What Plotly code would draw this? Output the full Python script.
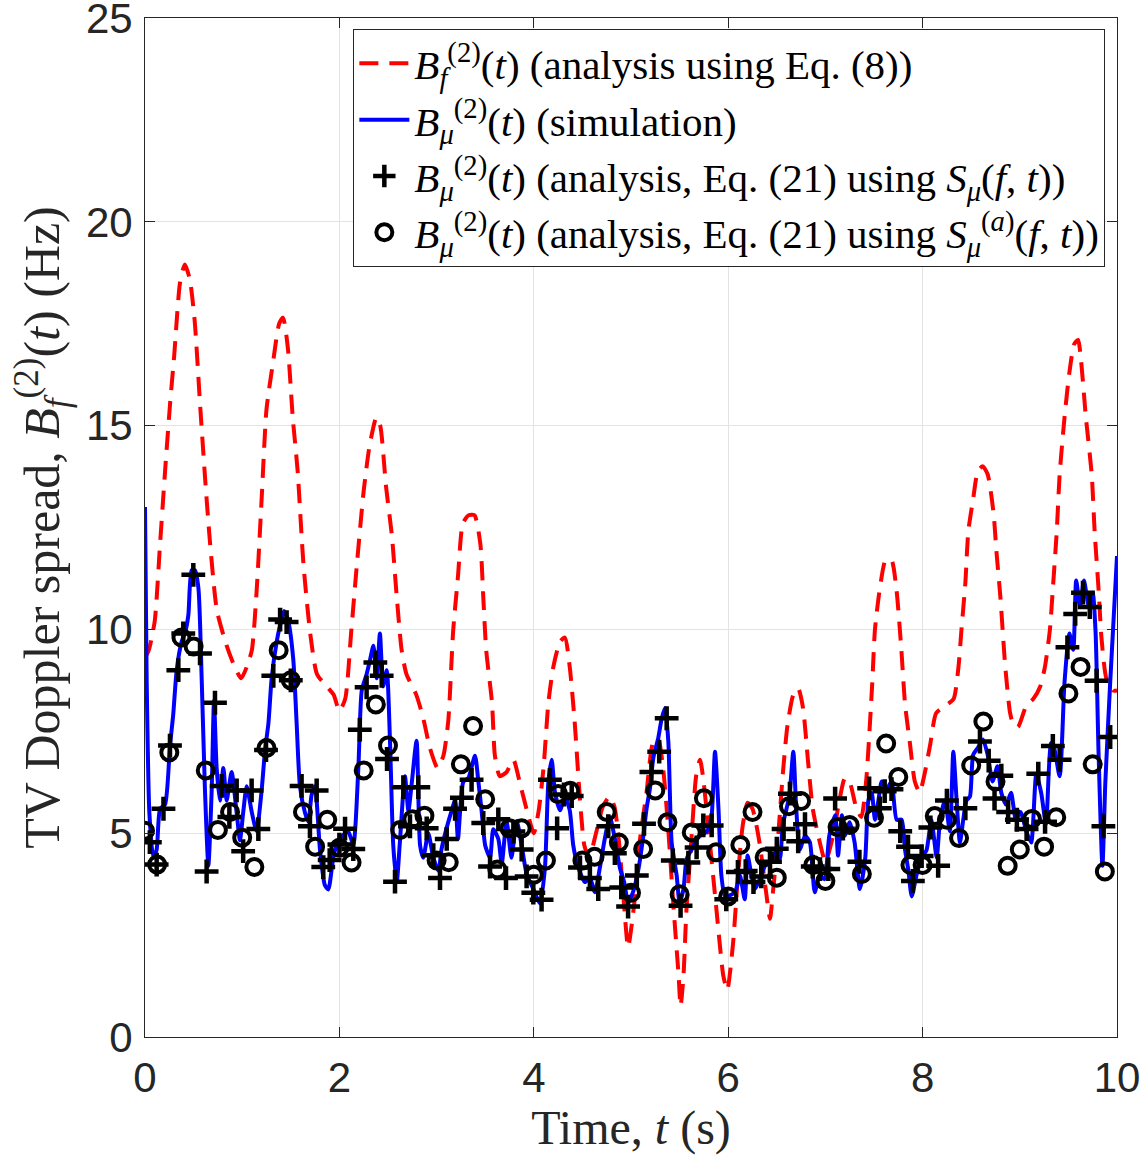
import plotly.graph_objects as go

# ---------------- data ----------------
t_red = [0.00, 0.04, 0.10, 0.155, 0.21, 0.26, 0.30, 0.36, 0.41, 0.46, 0.51, 0.57, 0.62, 0.67, 0.74, 0.84, 0.92, 0.99,
         1.05, 1.10, 1.15, 1.20, 1.25, 1.32, 1.38, 1.42, 1.47, 1.52, 1.57, 1.63, 1.70, 1.77, 1.87, 1.94, 2.00,
         2.06, 2.12, 2.18, 2.25, 2.31, 2.38, 2.42, 2.48, 2.54, 2.59, 2.64, 2.69, 2.79, 2.86, 2.93, 3.01,
         3.07, 3.12, 3.17, 3.22, 3.27, 3.33, 3.39, 3.45, 3.48, 3.51, 3.57, 3.60, 3.65, 3.72, 3.79, 3.86, 3.93, 4.00,
         4.05, 4.10, 4.15, 4.20, 4.27, 4.32, 4.37, 4.42, 4.47, 4.52, 4.57, 4.64, 4.71, 4.78, 4.83, 4.88, 4.93, 4.97,
         5.03, 5.09, 5.16, 5.23, 5.28, 5.33, 5.38, 5.44, 5.49, 5.51, 5.54, 5.57, 5.62, 5.67, 5.71, 5.74, 5.81, 5.88,
         5.95, 5.99, 6.05, 6.10, 6.15, 6.20, 6.25, 6.32, 6.39, 6.43, 6.46, 6.51, 6.56, 6.61, 6.67, 6.72, 6.77, 6.82,
         6.87, 6.94, 7.00, 7.08, 7.14, 7.20, 7.25, 7.32, 7.37, 7.42, 7.48, 7.51, 7.56, 7.62, 7.68, 7.73, 7.78, 7.82,
         7.87, 7.92, 7.97, 8.02, 8.08, 8.14, 8.25, 8.32, 8.37, 8.40, 8.44, 8.47, 8.52, 8.57, 8.62, 8.67, 8.73, 8.76,
         8.80, 8.85, 8.90, 8.93, 8.98, 9.07, 9.14, 9.21, 9.26, 9.31, 9.34, 9.38, 9.41, 9.46, 9.51, 9.56, 9.60, 9.63,
         9.68, 9.74, 9.77, 9.81, 9.84, 9.89, 9.96, 10.00]
v_red = [9.3, 9.5, 10.2, 12.1, 14.0, 15.6, 16.7, 18.5, 18.95, 18.6, 17.6, 15.4, 13.65, 12.1, 10.46, 9.6, 9.1, 8.8,
         9.1, 9.5, 11.0, 13.2, 15.4, 16.6, 17.5, 17.65, 16.9, 15.2, 13.9, 11.6, 9.9, 8.9, 8.6, 8.4, 8.0,
         8.3, 9.9, 11.6, 13.4, 14.5, 15.2, 15.0, 13.5, 12.3, 10.8, 9.5, 8.9, 8.4, 7.85, 7.1, 6.6,
         6.9, 7.75, 9.95, 11.3, 12.6, 12.8, 12.8, 12.1, 10.8, 9.5, 8.2, 6.9, 6.4, 6.5, 6.8, 6.2, 5.55, 5.0,
         5.55, 6.6, 8.2, 9.07, 9.7, 9.8, 9.07, 7.75, 6.0, 4.7, 4.4, 5.0, 5.65, 5.9, 5.65, 4.7, 3.2, 2.2,
         3.2, 4.8, 6.0, 7.25, 7.3, 6.6, 5.2, 3.1, 1.5, 0.75, 1.5, 3.1, 4.8, 6.4, 6.8, 6.4, 4.8, 3.1,
         1.5, 1.15, 2.3, 3.95, 5.2, 5.75, 5.6, 4.8, 3.55, 2.9, 3.55, 4.8, 6.4, 7.65, 8.4, 8.55, 8.07, 6.8,
         5.6, 4.8, 4.3, 4.95, 5.75, 6.35, 6.25, 5.6, 5.4, 6.3, 8.6, 10.0, 11.0, 11.7, 11.7, 11.0, 9.55, 8.15,
         7.2, 6.27, 6.0, 6.45, 7.2, 7.95, 8.15, 8.3, 9.1, 10.0, 11.15, 12.4, 13.2, 13.9, 14.0, 13.8, 12.85, 11.9,
         10.8, 9.1, 7.95, 7.7, 7.6, 8.15, 8.3, 8.6, 9.1, 10.0, 11.0, 12.4, 13.8, 15.2, 16.3, 17.0, 17.1, 16.6,
         15.2, 13.8, 12.4, 11.0, 9.8, 8.8, 8.5, 8.5]

t_blue = [0.00, 0.017, 0.045, 0.086, 0.12, 0.155, 0.206, 0.257, 0.29, 0.326, 0.377, 0.41, 0.446, 0.48, 0.514, 0.55,
          0.583, 0.617, 0.652, 0.686, 0.71, 0.737, 0.77, 0.806, 0.84, 0.891, 0.943, 0.977, 1.01, 1.046, 1.10, 1.148,
          1.20, 1.235, 1.27, 1.303, 1.355, 1.39, 1.43, 1.474, 1.526, 1.56, 1.594, 1.646, 1.68, 1.714, 1.748, 1.80,
          1.85, 1.886, 1.937, 1.988, 2.04, 2.09, 2.143, 2.195, 2.23, 2.28, 2.315, 2.35, 2.383, 2.417, 2.45, 2.487,
          2.52, 2.554, 2.59, 2.62, 2.674, 2.71, 2.743, 2.794, 2.83, 2.863, 2.914, 2.966, 3.02, 3.05, 3.10, 3.154,
          3.19, 3.22, 3.275, 3.326, 3.395, 3.43, 3.463, 3.50, 3.55, 3.583, 3.635, 3.67, 3.72, 3.77, 3.824, 3.875,
          3.926, 3.995, 4.064, 4.115, 4.15, 4.184, 4.218, 4.27, 4.32, 4.37, 4.406, 4.457, 4.525, 4.577, 4.628, 4.68,
          4.73, 4.782, 4.834, 4.885, 4.93, 4.97, 5.02, 5.075, 5.127, 5.16, 5.195, 5.23, 5.28, 5.315, 5.35, 5.384,
          5.418, 5.47, 5.50, 5.54, 5.572, 5.624, 5.66, 5.71, 5.76, 5.795, 5.83, 5.864, 5.90, 5.93, 5.966, 6.00,
          6.07, 6.12, 6.17, 6.20, 6.24, 6.276, 6.33, 6.38, 6.43, 6.48, 6.53, 6.56, 6.60, 6.63, 6.67, 6.70,
          6.737, 6.79, 6.84, 6.89, 6.94, 6.99, 7.04, 7.10, 7.13, 7.17, 7.20, 7.25, 7.30, 7.355, 7.41, 7.442,
          7.476, 7.51, 7.545, 7.58, 7.63, 7.68, 7.733, 7.784, 7.82, 7.853, 7.888, 7.94, 7.99, 8.04, 8.09, 8.145,
          8.18, 8.23, 8.28, 8.316, 8.35, 8.384, 8.418, 8.45, 8.487, 8.52, 8.57, 8.62, 8.67, 8.72, 8.77, 8.81,
          8.86, 8.91, 8.96, 9.01, 9.066, 9.117, 9.17, 9.22, 9.27, 9.32, 9.34, 9.41, 9.46, 9.51, 9.55, 9.58,
          9.62, 9.66, 9.71, 9.75, 9.78, 9.81, 9.85, 9.88, 9.93, 10.00]
v_blue = [13.0, 8.8, 5.5, 4.4, 4.6, 5.6, 5.7, 7.15, 7.9, 9.0, 9.7, 9.9, 10.35, 11.45, 11.45, 11.0,
          8.8, 6.05, 4.2, 6.05, 8.25, 6.6, 5.8, 6.6, 5.8, 6.5, 5.5, 4.83, 5.5, 6.15, 5.5, 5.05,
          6.05, 7.04, 7.7, 8.8, 9.7, 10.1, 10.45, 10.2, 9.25, 7.7, 6.15, 5.5, 5.28, 5.94, 6.15, 4.6,
          3.73, 3.62, 4.4, 4.83, 4.95, 5.05, 4.72, 6.6, 8.5, 8.9, 9.25, 9.6, 8.8, 9.9, 8.6, 9.0,
          7.3, 4.7, 3.8, 4.7, 6.4, 5.55, 6.2, 7.27, 4.7, 4.4, 5.0, 4.4, 4.07, 4.6, 5.1, 5.55,
          5.8, 4.86, 6.26, 6.35, 6.9, 6.26, 5.55, 4.7, 4.4, 5.1, 4.86, 4.25, 5.3, 4.4, 5.3, 4.7,
          4.0, 3.63, 3.28, 4.16, 6.26, 6.8, 6.0, 5.56, 5.9, 5.56, 4.7, 4.16, 3.8, 3.9, 3.55, 4.16,
          4.86, 5.4, 4.86, 4.16, 3.8, 3.3, 3.55, 4.1, 4.94, 5.6, 6.1, 6.85, 7.33, 7.8, 8.07, 7.25,
          4.78, 3.96, 3.3, 3.63, 4.37, 4.6, 4.78, 4.94, 5.0, 5.1, 5.44, 7.0, 5.6, 3.96, 3.46, 3.46,
          3.55, 3.96, 3.38, 4.45, 3.96, 3.63, 3.9, 4.2, 4.28, 4.53, 4.37, 5.19, 5.6, 5.93, 7.0, 5.6,
          4.6, 4.94, 4.78, 3.55, 3.96, 3.87, 4.94, 5.44, 4.45, 5.44, 4.94, 5.27, 4.78, 3.63, 4.39, 5.8,
          5.99, 5.33, 5.8, 6.27, 6.08, 6.27, 5.33, 5.33, 4.58, 4.1, 3.45, 4.0, 4.4, 4.58, 5.33, 4.4,
          5.33, 5.8, 5.05, 7.0, 5.8, 4.77, 5.33, 5.8, 5.9, 6.92, 7.1, 7.3, 6.92, 6.27, 6.64, 5.99,
          5.7, 5.99, 5.33, 5.52, 5.05, 4.77, 6.46, 5.99, 5.23, 7.2, 7.23, 6.4, 8.7, 9.9, 9.5, 11.2,
          10.57, 11.2, 10.57, 10.9, 9.9, 7.0, 4.2, 6.25, 8.7, 11.8]

t_plus = [0.05, 0.12, 0.19, 0.257, 0.343, 0.394, 0.497, 0.566, 0.634, 0.72, 0.789, 0.868, 0.943, 1.01, 1.097,
          1.166, 1.245, 1.32, 1.39, 1.457, 1.50, 1.611, 1.697, 1.766, 1.834, 1.90, 2.00, 2.058, 2.143, 2.21,
          2.28, 2.37, 2.435, 2.49, 2.572, 2.658, 2.726, 2.812, 2.898, 2.966, 3.035, 3.104, 3.19, 3.26, 3.36,
          3.48, 3.55, 3.635, 3.714, 3.79, 3.875, 3.926, 3.995, 4.08, 4.166, 4.24, 4.31, 4.39, 4.475, 4.577,
          4.663, 4.766, 4.834, 4.90, 4.97, 5.06, 5.134, 5.21, 5.29, 5.367, 5.43, 5.51, 5.59, 5.675, 5.744,
          5.83, 5.98, 6.10, 6.18, 6.26, 6.34, 6.43, 6.50, 6.57, 6.635, 6.72, 6.79, 6.87, 6.944, 7.03,
          7.10, 7.18, 7.35, 7.45, 7.56, 7.61, 7.68, 7.77, 7.85, 7.90, 7.99, 8.08, 8.16, 8.25, 8.44,
          8.59, 8.68, 8.74, 8.81, 8.88, 8.97, 9.07, 9.19, 9.26, 9.34, 9.41, 9.49, 9.57, 9.65, 9.72,
          9.79, 9.86, 9.93]
v_plus = [4.78, 4.23, 5.6, 7.15, 9.0, 9.9, 11.34, 9.41, 4.06, 8.2, 6.16, 5.4, 6.05, 4.56, 6.05,
          5.1, 7.04, 8.86, 10.24, 10.18, 8.75, 6.16, 5.17, 6.05, 4.17, 4.34, 4.72, 5.11, 4.61, 7.54,
          8.58, 9.19, 8.86, 6.82, 3.81, 6.13, 5.17, 6.13, 5.12, 4.46, 3.9, 4.86, 5.6, 5.87, 6.31,
          5.25, 4.18, 5.34, 3.9, 5.04, 4.6, 3.94, 3.54, 3.37, 6.31, 5.12, 5.95, 5.91, 4.16, 3.9,
          3.63, 5.17, 4.51, 3.67, 3.2, 3.96, 5.23, 6.5, 7.0, 7.82, 4.33, 3.22, 4.28, 4.65, 5.19,
          5.19, 3.38, 4.05, 4.07, 3.8, 3.94, 4.3, 4.62, 5.1, 5.97, 4.8, 5.22, 4.18, 4.12, 4.12,
          5.85, 5.11, 4.3, 6.1, 5.61, 6.03, 6.08, 5.05, 4.67, 3.83, 4.44, 5.14, 4.2, 5.8, 5.61,
          7.25, 6.78, 5.85, 6.41, 5.52, 5.33, 5.1, 6.46, 5.28, 7.14, 6.8, 9.56, 10.38, 10.9, 10.55,
          8.74, 5.17, 7.36]

t_circ = [0.0, 0.125, 0.25, 0.375, 0.5, 0.625, 0.75, 0.875, 1.0, 1.125, 1.25, 1.375, 1.5, 1.625, 1.75, 1.875,
          2.0, 2.125, 2.25, 2.375, 2.5, 2.625, 2.75, 2.875, 3.0, 3.125, 3.25, 3.375, 3.5, 3.625, 3.75, 3.875,
          4.0, 4.125, 4.25, 4.375, 4.5, 4.625, 4.75, 4.875, 5.0, 5.125, 5.25, 5.375, 5.5, 5.625, 5.75, 5.875,
          6.0, 6.125, 6.25, 6.375, 6.5, 6.625, 6.75, 6.875, 7.0, 7.125, 7.25, 7.375, 7.5, 7.625, 7.75, 7.875,
          8.0, 8.125, 8.25, 8.375, 8.5, 8.625, 8.75, 8.875, 9.0, 9.125, 9.25, 9.375, 9.5, 9.625, 9.75, 9.875]
v_circ = [5.06, 4.23, 6.98, 9.8, 9.58, 6.54, 5.08, 5.52, 4.89, 4.17, 7.09, 9.49, 8.75, 5.52, 4.67, 5.33,
          4.64, 4.28, 6.54, 8.16, 7.15, 5.08, 5.34, 5.43, 4.33, 4.29, 6.69, 7.63, 5.83, 4.11, 5.12, 5.12,
          3.98, 4.33, 5.96, 6.04, 4.33, 4.42, 5.52, 4.77, 3.54, 4.61, 6.05, 5.27, 3.5, 5.02, 5.86, 4.53,
          3.45, 4.71, 5.52, 4.41, 3.91, 5.66, 5.79, 4.22, 3.83, 5.15, 5.2, 4.0, 5.38, 7.2, 6.38, 4.22,
          4.22, 5.42, 5.33, 4.88, 6.66, 7.74, 6.27, 4.2, 4.6, 5.35, 4.67, 5.39, 8.43, 9.08, 6.69, 4.06]

x_ticks = [0, 2, 4, 6, 8, 10]
y_ticks = [0, 5, 10, 15, 20, 25]

name_red = "<i>B</i><sub><i>f</i></sub><sup>(2)</sup>(<i>t</i>) (analysis using Eq. (8))"
name_blue = "<i>B</i><sub><i>μ</i></sub><sup>(2)</sup>(<i>t</i>) (simulation)"
name_plus = ("<i>B</i><sub><i>μ</i></sub><sup>(2)</sup>(<i>t</i>) (analysis, Eq. (21) using "
             "<i>S</i><sub><i>μ</i></sub>(<i>f</i>, <i>t</i>))")
name_circ = ("<i>B</i><sub><i>μ</i></sub><sup>(2)</sup>(<i>t</i>) (analysis, Eq. (21) using "
             "<i>S</i><sub><i>μ</i></sub><sup>(<i>a</i>)</sup>(<i>f</i>, <i>t</i>))")

SERIF = "Liberation Serif, DejaVu Serif, serif"
SANS = "Liberation Sans, Arial, sans-serif"
AX = "#262626"

fig = go.Figure()
fig.add_trace(go.Scatter(x=t_red, y=v_red, mode="lines", name=name_red,
                         line=dict(color="#ff0000", width=4, dash="19px,11px", shape="spline", smoothing=0.6)))
fig.add_trace(go.Scatter(x=t_blue, y=v_blue, mode="lines", name=name_blue,
                         line=dict(color="#0000ff", width=4, shape="spline", smoothing=0.6)))
fig.add_trace(go.Scatter(x=t_plus, y=v_plus, mode="markers", name=name_plus,
                         marker=dict(symbol="cross-thin", size=17, color="black",
                                     line=dict(color="black", width=4.5))))
fig.add_trace(go.Scatter(x=t_circ, y=v_circ, mode="markers", name=name_circ,
                         marker=dict(symbol="circle-open", size=16, color="black",
                                     line=dict(color="black", width=4))))

axis_common = dict(showline=True, linecolor=AX, linewidth=1, mirror="ticks",
                   ticks="inside", ticklen=10, tickwidth=1, tickcolor=AX,
                   showgrid=True, gridcolor="#e3e3e3", gridwidth=1, zeroline=False,
                   automargin=False, ticklabeloverflow="allow",
                   tickfont=dict(family=SANS, size=42, color=AX))

fig.update_xaxes(range=[0, 10], tickvals=x_ticks, ticktext=[str(v) for v in x_ticks],
                 ticklabelstandoff=4,
                 title=dict(text="Time, <i>t</i> (s)", font=dict(family=SERIF, size=48, color=AX), standoff=0),
                 **axis_common)
fig.update_yaxes(range=[0, 25], tickvals=y_ticks, ticktext=[str(v) for v in y_ticks],
                 ticklabelstandoff=3,
                 title=dict(text="TV Doppler spread, <i>B</i><sub><i>f</i></sub><sup>(2)</sup>(<i>t</i>) (Hz)",
                            font=dict(family=SERIF, size=50, color=AX), standoff=10),
                 **axis_common)

fig.update_layout(
    width=1146, height=1158,
    margin=dict(l=145, r=29, t=18, b=121),
    plot_bgcolor="white", paper_bgcolor="white",
    showlegend=True,
    legend=dict(x=0.988, xanchor="right", y=0.989, yanchor="top",
                bgcolor="white", bordercolor=AX, borderwidth=1,
                font=dict(family=SERIF, size=41, color="black"),
                itemwidth=50, tracegroupgap=0),
)

# remove the default 8 px page margin so the figure fills the window exactly
fig.write_html("out.html",
               config={"displayModeBar": False},
               post_script="document.body.style.margin='0';document.body.style.overflow='hidden';")
